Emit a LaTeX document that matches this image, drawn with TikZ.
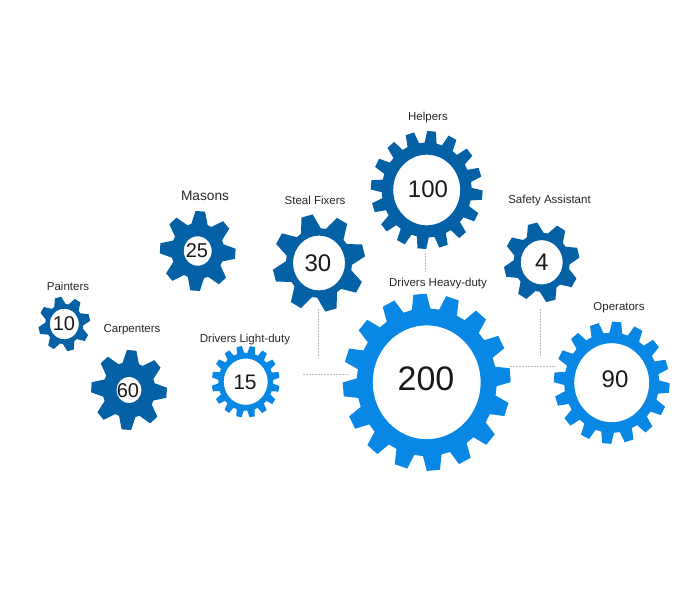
\documentclass[tikz,border=0pt]{standalone}
\usepackage{fontspec}
\setmainfont{Liberation Sans}
\definecolor{gearDark}{RGB}{5,97,165}
\definecolor{gearLight}{RGB}{8,136,228}
%% gear: style, centre, teeth, angle of first tooth, tip, root and hole radius
\newcommand{\gear}[7]{
  \begin{scope}[shift={(#2)}, yscale=-1.055]
    \pgfmathsetmacro{\pitch}{360/#3}
    \pgfmathsetmacro{\tipw}{(#3==8 ? 0.16 : 0.2)*\pitch}
    \pgfmathsetmacro{\rootw}{(#3==8 ? 0.4 : 0.34)*\pitch}
    \fill[#1, even odd rule] ({#4-\rootw}:#6)
      \foreach \i in {1,...,#3} {
        -- ({#4+(\i-1)*\pitch-\rootw}:#6)
        -- ({#4+(\i-1)*\pitch-\tipw}:#5) -- ({#4+(\i-1)*\pitch+\tipw}:#5)
        -- ({#4+(\i-1)*\pitch+\rootw}:#6)
      } -- cycle (0,0) circle[radius=#7];
  \end{scope}
}
\begin{document}
\begin{tikzpicture}[
  x=1pt, y=-1pt,
  darkgear/.style={fill=gearDark},
  lightgear/.style={fill=gearLight},
  role/.style={font=\fontsize{11.5}{13}\selectfont, text=black!85, inner sep=0pt, anchor=base},
  num/.style={font=\fontsize{#1}{#1}\selectfont, text=black!90, inner sep=0pt},
  link/.style={draw=black!28, line width=1pt, dash pattern=on 2pt off 1pt}
]
  \useasboundingbox (0,0) rectangle (680,592);

  %% dark gears
  \gear{darkgear}{426.7,190}{16}{85}{56}{45}{33.5}
  \gear{darkgear}{319,263}{8}{105}{46.5}{33}{26}
  \gear{darkgear}{197.7,251}{8}{86}{38}{26.5}{14}
  \gear{darkgear}{541.7,262.3}{8}{104}{38}{28}{21}
  \gear{darkgear}{64.3,324}{8}{104}{26}{19}{14.5}
  \gear{darkgear}{129,390}{8}{86}{38}{26.5}{12.5}
  %% light gears
  \gear{lightgear}{426.7,382.3}{16}{94.6}{84}{70}{54}
  \gear{lightgear}{611.7,382.7}{16}{85}{58}{47.5}{37.5}
  \gear{lightgear}{245.7,381.7}{16}{101}{34}{27.5}{22}

  %% numbers
  \node[num=24] (n100) at (428,189) {100};
  \node[num=24] (n30)  at (318,263) {30};
  \node[num=20] (n25)  at (197,251) {25};
  \node[num=24] (n4)   at (541.7,262) {4};
  \node[num=20] (n10)  at (64,324)  {10};
  \node[num=20] (n60)  at (128,391) {60};
  \node[num=34] (n200) at (426,379) {200};
  \node[num=24] (n90)  at (615,379) {90};
  \node[num=21] (n15)  at (245,382) {15};

  %% labels
  \node[role] (helpers) at (428,120) {Helpers};
  \node[role, font=\fontsize{13.7}{15}\selectfont] (masons) at (205,200) {Masons};
  \node[role] (fixers)  at (315,204) {Steal Fixers};
  \node[role] (safety)  at (549.5,203) {Safety Assistant};
  \node[role] (painters) at (68,290) {Painters};
  \node[role] (carpenters) at (132,332) {Carpenters};
  \node[role] (light)   at (245,342) {Drivers Light-duty};
  \node[role] (heavy)   at (438,286) {Drivers Heavy-duty};
  \node[role] (operators) at (619,310) {Operators};

  %% dashed links
  \coordinate (fixersEnd) at (318,309);
  \coordinate (fixersJoin) at (318,358);
  \coordinate (lightEnd) at (303,374);
  \coordinate (lightJoin) at (349,374);
  \coordinate (helpersEnd) at (425,253);
  \coordinate (helpersJoin) at (425,272);
  \coordinate (opsEnd) at (556,366);
  \coordinate (opsJoin) at (510,366);
  \coordinate (safetyEnd) at (540,309);
  \coordinate (safetyJoin) at (540,357);
  \draw[link] (fixersEnd) -- (fixersJoin);
  \draw[link] (lightEnd) -- (lightJoin);
  \draw[link] (helpersEnd) -- (helpersJoin);
  \draw[link] (opsJoin) -- (opsEnd);
  \draw[link] (safetyEnd) -- (safetyJoin);
\end{tikzpicture}
\end{document}
